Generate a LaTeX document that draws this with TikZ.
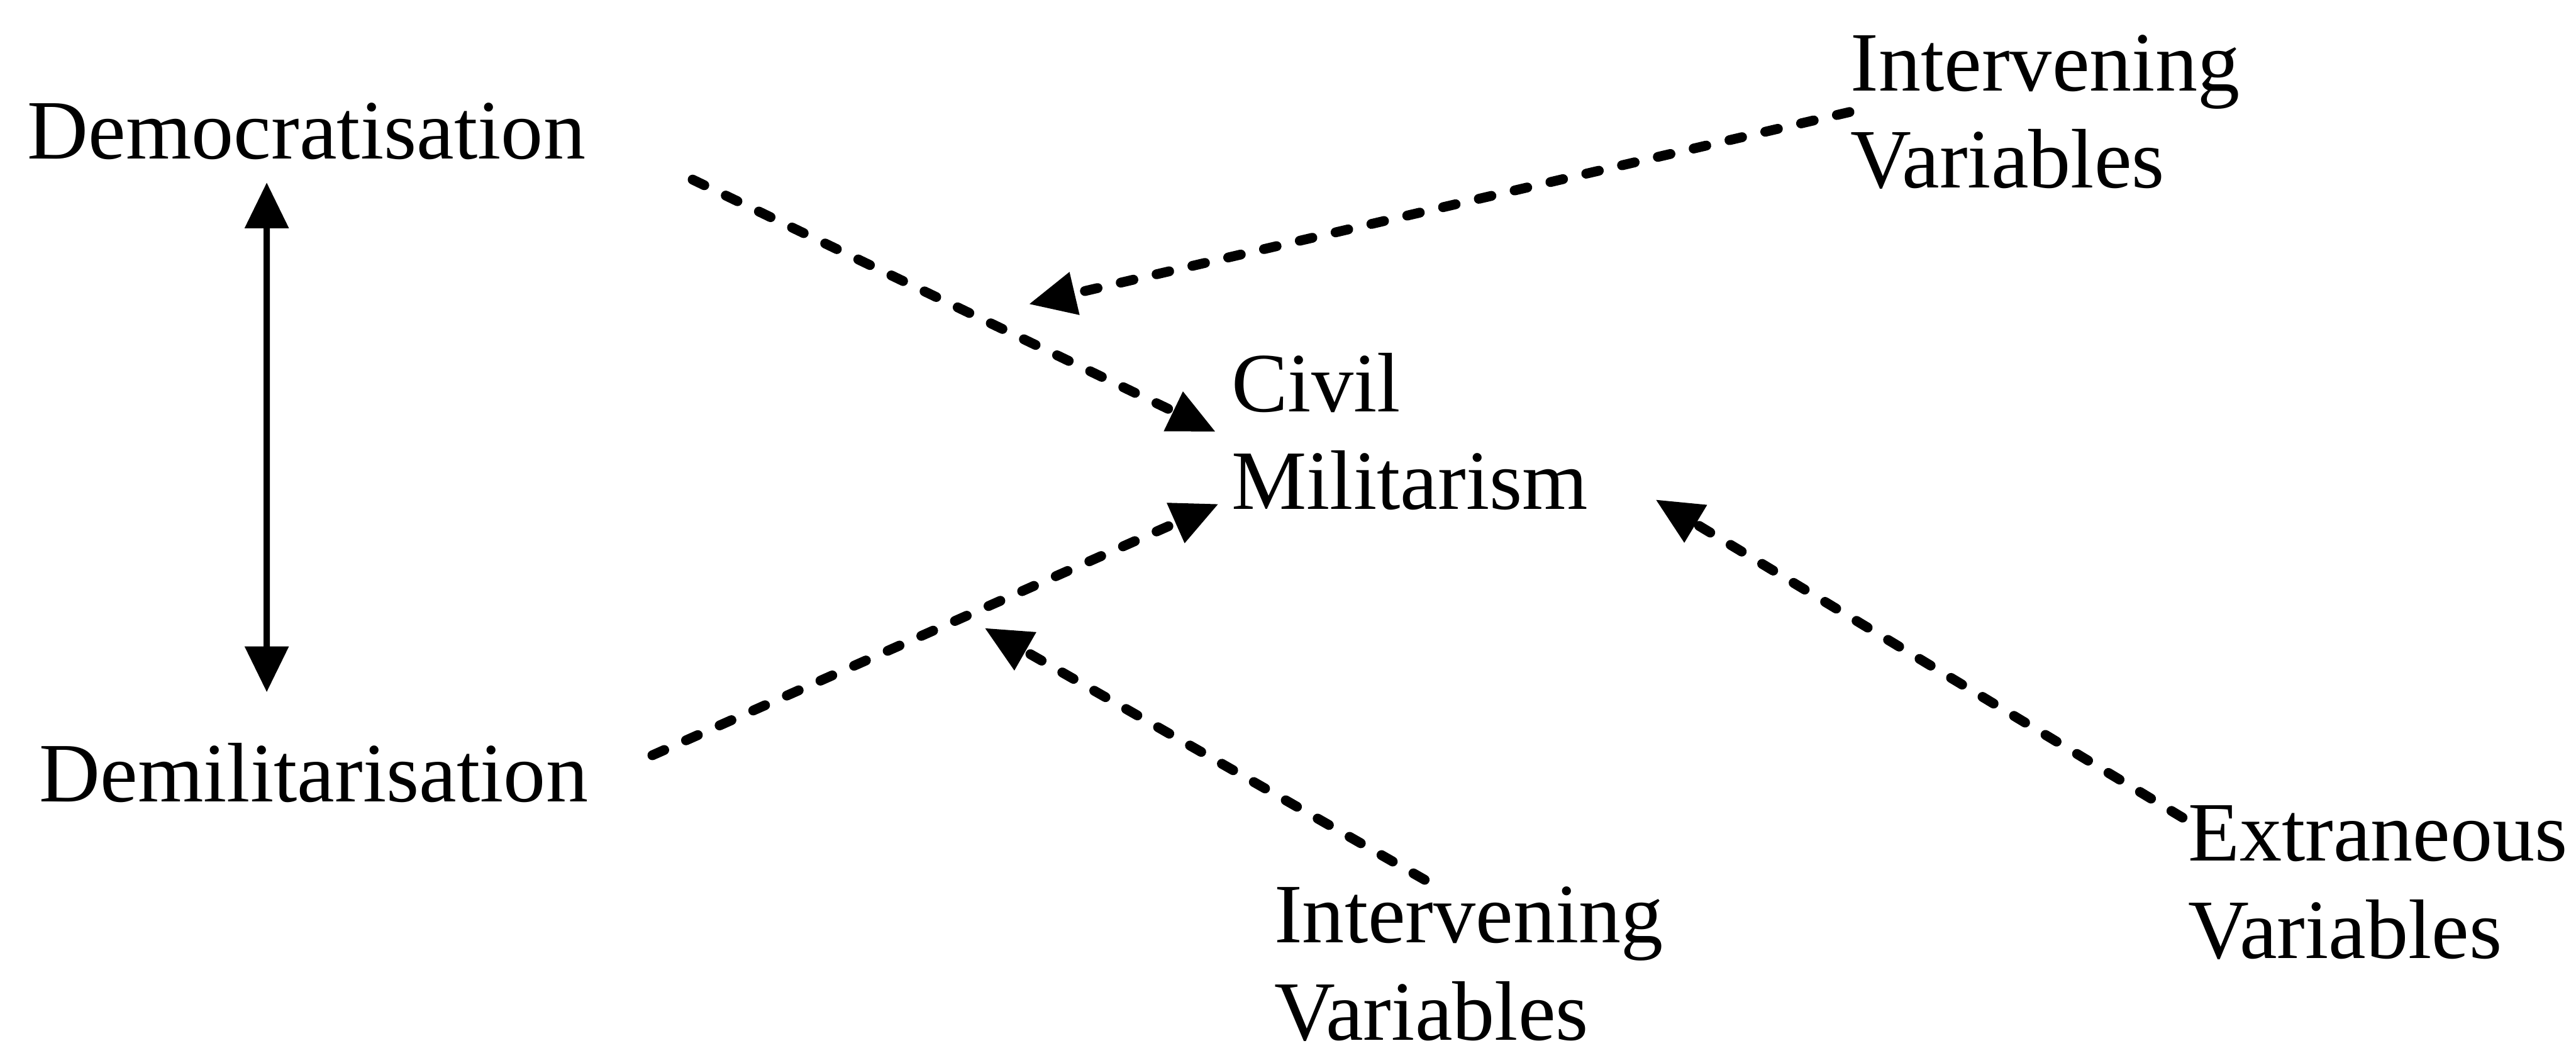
\documentclass[tikz,border=0pt]{standalone}
\usepackage{fontspec}
\setmainfont{Liberation Serif}
\usepackage{tikz}
\usetikzlibrary{positioning, arrows.meta}
\tikzset{
  varlbl/.style={font=\fontsize{16.3}{18.8}\selectfont, inner sep=0pt, align=left, anchor=base west},
  dasharr/.style={-{Triangle[length=0.32cm, width=0.28cm]}, line width=1.9pt, line cap=round,
    dash pattern=on 2.5pt off 4.6pt},
  dblarr/.style={{Triangle[length=0.31cm, width=0.29cm]}-{Triangle[length=0.31cm, width=0.29cm]},
    line width=1.2pt},
}

\begin{document}
\begin{tikzpicture}
  \useasboundingbox (0,0) rectangle (17.48,-7.14);
  % base anchor of a two-line label sits on its last line
  \node[varlbl] (demo) at (0.18,-1.076) {Democratisation};
  \node[varlbl] (demil) at (0.26,-5.44) {Demilitarisation};
  \node[varlbl] (civil) at (8.35,-3.456) {Civil\\Militarism};
  \node[varlbl] (ivtop) at (12.55,-1.276) {Intervening\\Variables};
  \node[varlbl] (ivbot) at (8.64,-7.056) {Intervening\\Variables};
  \node[varlbl] (extra) at (14.84,-6.50) {Extraneous\\Variables};
  \coordinate (hittop) at (6.98,-2.064);
  \coordinate (hitbot) at (6.68,-4.26);

  \draw[dblarr] ([shift={(1.63,-0.15)}]demo.south west) -- ([shift={(1.55,0.34)}]demil.north west);
  \draw[dasharr] ([shift={(0.72,-0.13)}]demo.south east) -- ([xshift=-0.1cm]civil.west);
  \draw[dasharr] ([shift={(0.43,0.12)}]demil.east) -- ([shift={(-0.08,0.05)}]civil.south west);
  \draw[dasharr] (ivtop.west) -- (hittop);
  \draw[dasharr] ([shift={(-0.3,0.04)}]ivbot.north) -- (hitbot);
  \draw[dasharr] ([shift={(-0.03,-0.09)}]extra.north west) -- ([shift={(0.45,0.08)}]civil.south east);
\end{tikzpicture}
\end{document}
